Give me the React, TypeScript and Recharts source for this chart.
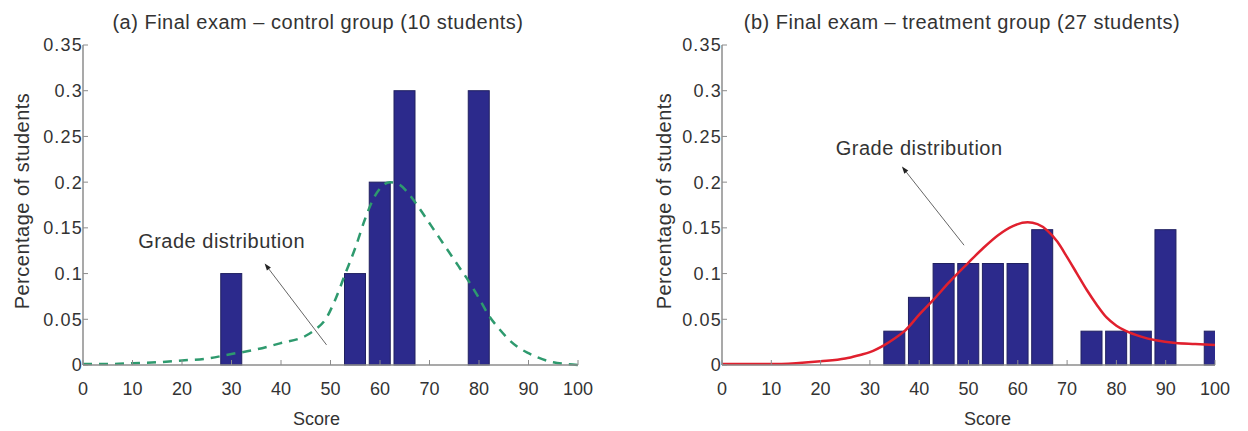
import {
  ComposedChart,
  Bar,
  Line,
  XAxis,
  YAxis,
  ReferenceLine,
  ReferenceDot,
} from "recharts";

const xTicks = [0, 10, 20, 30, 40, 50, 60, 70, 80, 90, 100];
const yTicks = [0, 0.05, 0.1, 0.15, 0.2, 0.25, 0.3, 0.35];

// (a) control group, 10 students
const controlScores = [30, 55, 60, 65, 80];
const controlShare = [0.1, 0.1, 0.2, 0.3, 0.3];
const controlCurveX = [0, 5, 10, 15, 20, 25, 30, 35, 40, 45, 47, 49, 51, 53, 55, 57, 58.5, 60, 62, 64, 66, 68, 70, 72, 74, 76, 78, 80, 82, 84, 86, 88, 90, 92, 95, 98, 100];
const controlCurveY = [0.001, 0.001, 0.002, 0.003, 0.005, 0.007, 0.012, 0.017, 0.024, 0.032, 0.039, 0.05, 0.072, 0.1, 0.128, 0.16, 0.18, 0.193, 0.2, 0.197, 0.186, 0.171, 0.155, 0.139, 0.123, 0.107, 0.091, 0.073, 0.054, 0.04, 0.028, 0.019, 0.013, 0.008, 0.003, 0.001, 0];

// (b) treatment group, 27 students
const treatmentScores = [35, 40, 45, 50, 55, 60, 65, 75, 80, 85, 90, 100];
const treatmentShare = [0.037, 0.074, 0.111, 0.111, 0.111, 0.111, 0.148, 0.037, 0.037, 0.037, 0.148, 0.037];
const treatmentCurveX = [0, 10, 15, 20, 25, 28, 30, 33, 35, 37, 40, 43, 46, 50, 53, 56, 59, 62, 64, 66, 68, 70, 72, 74, 76, 78, 80, 82, 85, 88, 92, 96, 100];
const treatmentCurveY = [0.001, 0.001, 0.002, 0.004, 0.007, 0.011, 0.014, 0.022, 0.029, 0.037, 0.055, 0.072, 0.09, 0.112, 0.128, 0.142, 0.152, 0.156, 0.154, 0.147, 0.135, 0.118, 0.1, 0.082, 0.066, 0.052, 0.043, 0.037, 0.031, 0.027, 0.024, 0.023, 0.022];

const FONT = '"Liberation Sans", Arial, Helvetica, sans-serif';
const FRAME = "#8c8c8c";
const TEXT = "#333";

const zip = (xs: number[], ys: number[]) => xs.map((x, i) => ({ x, y: ys[i] }));

const BarShape = (p: any) => {
  const cx = p.x + p.width / 2;
  const w = 21;
  if (!p.height) return null;
  return (
    <rect
      x={cx - w / 2}
      y={p.y}
      width={w}
      height={p.height}
      fill="#2C2A8C"
      stroke="#202060"
      strokeWidth={1}
    />
  );
};

const Arrow = (p: any) => {
  const { x1, y1, x2, y2 } = p;
  const a = Math.atan2(y2 - y1, x2 - x1);
  const len = 7;
  const half = 2.5;
  const bx = x2 - len * Math.cos(a);
  const by = y2 - len * Math.sin(a);
  const px = -Math.sin(a) * half;
  const py = Math.cos(a) * half;
  return (
    <g>
      <line x1={x1} y1={y1} x2={bx} y2={by} stroke="#666" strokeWidth={1} />
      <polygon
        points={`${x2},${y2} ${bx + px},${by + py} ${bx - px},${by - py}`}
        fill="#222"
      />
    </g>
  );
};

type PanelProps = {
  title: string;
  titleX: number;
  bars: { x: number; y: number }[];
  curve: { x: number; y: number }[];
  curveColor: string;
  dashed?: boolean;
  yAxisWidth: number;
  rightMargin: number;
  yLabelX: number;
  scoreDx: number;
  note: { x: number; y: number };
  arrow: { x: number; y: number }[];
};

function Panel(props: PanelProps) {
  const W = 624;
  const H = 431;
  return (
    <div style={{ position: "relative", width: W, height: H }}>
      <div
        style={{
          position: "absolute",
          left: props.titleX - 300,
          width: 600,
          top: 10,
          textAlign: "center",
          fontFamily: FONT,
          fontSize: 20,
          letterSpacing: 0.5,
          color: TEXT,
          lineHeight: "24px",
        }}
      >
        {props.title}
      </div>
      <ComposedChart
        width={W}
        height={H}
        data={props.bars}
        margin={{ top: 45, right: props.rightMargin, bottom: 0, left: 0 }}
      >
        <XAxis
          dataKey="x"
          type="number"
          domain={[0, 100]}
          ticks={xTicks}
          allowDataOverflow
          height={66}
          tickSize={-5}
          tickMargin={22}
          axisLine={{ stroke: FRAME, strokeWidth: 1.5 }}
          tickLine={{ stroke: FRAME }}
          tick={{ fontSize: 18, fill: TEXT, fontFamily: FONT }}
          label={{
            value: "Score",
            position: "insideBottom",
            offset: 6,
            dx: props.scoreDx,
            fontSize: 18,
            fill: TEXT,
            fontFamily: FONT,
          }}
        />
        <XAxis
          xAxisId="top"
          orientation="top"
          type="number"
          domain={[0, 100]}
          ticks={xTicks}
          height={0}
          tick={false}
          tickSize={-5}
          axisLine={{ stroke: FRAME, strokeWidth: 1.5 }}
          tickLine={{ stroke: FRAME }}
        />
        <YAxis
          type="number"
          domain={[0, 0.35]}
          ticks={yTicks}
          width={props.yAxisWidth}
          tickSize={-5}
          tickMargin={5}
          axisLine={{ stroke: FRAME, strokeWidth: 1.5 }}
          tickLine={{ stroke: FRAME }}
          tick={{ fontSize: 18, fill: TEXT, fontFamily: FONT, style: { letterSpacing: "1.2px" } }}
          tickFormatter={(v: number) => String(Number(v.toFixed(2)))}
          label={{
            content: (lp: any) => {
              const vb = lp.viewBox || { y: 45, height: 320 };
              const cy = vb.y + vb.height / 2 - 4;
              return (
                <text
                  x={props.yLabelX}
                  y={cy}
                  transform={`rotate(-90 ${props.yLabelX} ${cy})`}
                  textAnchor="middle"
                  dominantBaseline="central"
                  fontSize={20}
                  fill={TEXT}
                  fontFamily={FONT}
                  style={{ letterSpacing: "0.5px" }}
                >
                  Percentage of students
                </text>
              );
            },
          }}
        />
        <YAxis
          yAxisId="right"
          orientation="right"
          type="number"
          domain={[0, 0.35]}
          ticks={yTicks}
          width={0}
          tick={false}
          tickSize={-5}
          axisLine={{ stroke: FRAME, strokeWidth: 1.5 }}
          tickLine={{ stroke: FRAME }}
        />
        <Bar dataKey="y" barSize={21} shape={BarShape} isAnimationActive={false} />
        <Line
          data={props.curve}
          dataKey="y"
          type="monotone"
          stroke={props.curveColor}
          strokeWidth={2.5}
          strokeDasharray={props.dashed ? "9 7" : undefined}
          dot={false}
          activeDot={false}
          isAnimationActive={false}
        />
        <ReferenceLine
          segment={props.arrow}
          shape={Arrow}
          ifOverflow="visible"
        />
        <ReferenceDot
          x={props.note.x}
          y={props.note.y}
          r={0}
          fill="none"
          stroke="none"
          ifOverflow="visible"
          label={{
            value: "Grade distribution",
            position: "center",
            fontSize: 20,
            fill: TEXT,
            fontFamily: FONT,
            style: { letterSpacing: "0.5px" },
          }}
        />
      </ComposedChart>
    </div>
  );
}

export default function App() {
  return (
    <div
      style={{
        position: "absolute",
        left: 0,
        top: 0,
        width: 1248,
        height: 431,
        background: "#fff",
        display: "flex",
      }}
    >
      <Panel
        title="(a) Final exam – control group (10 students)"
        titleX={318}
        bars={zip(controlScores, controlShare)}
        curve={zip(controlCurveX, controlCurveY)}
        curveColor="#2E9A6E"
        dashed
        yAxisWidth={83}
        rightMargin={46}
        yLabelX={22}
        scoreDx={-14}
        note={{ x: 28, y: 0.136 }}
        arrow={[
          { x: 49.2, y: 0.022 },
          { x: 36.7, y: 0.111 },
        ]}
      />
      <Panel
        title="(b) Final exam – treatment group (27 students)"
        titleX={338}
        bars={zip(treatmentScores, treatmentShare)}
        curve={zip(treatmentCurveX, treatmentCurveY)}
        curveColor="#E0202E"
        yAxisWidth={98}
        rightMargin={33}
        yLabelX={40}
        scoreDx={19}
        note={{ x: 40, y: 0.237 }}
        arrow={[
          { x: 49.1, y: 0.131 },
          { x: 36.5, y: 0.217 },
        ]}
      />
    </div>
  );
}
